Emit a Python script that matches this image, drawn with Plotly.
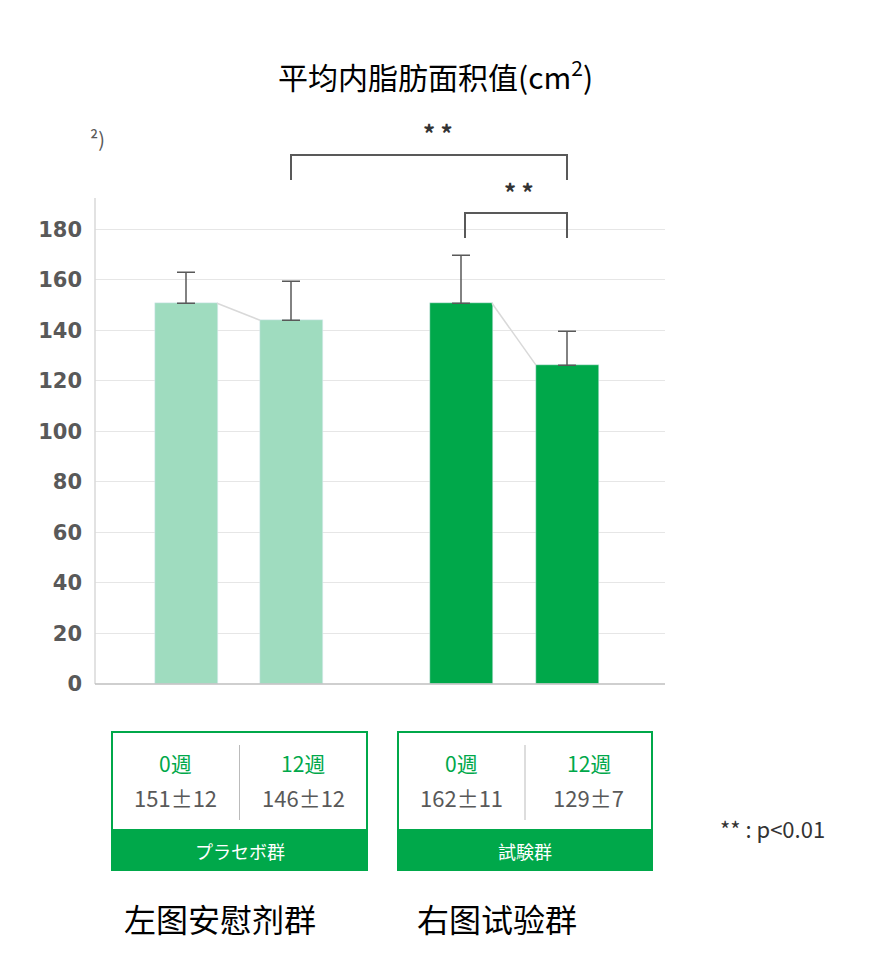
import plotly.graph_objects as go

# bar values
positions = [91, 196, 366, 472]
means = [150.7, 144.0, 150.7, 126.2]
err_plus = [12.3, 15.4, 19.0, 13.4]
bar_colors = ["#9fdcbf", "#9fdcbf", "#00a84a", "#00a84a"]
weeks = ["0週", "12週", "0週", "12週"]
stats = ["151±12", "146±12", "162±11", "129±7"]
groups = ["プラセボ群", "試験群"]
captions = ["左图安慰剂群", "右图试验群"]

GREEN = "#00a84a"
GREY = "#595959"

def py(p):  # pixel y -> paper y
    return (684 - p) / 480

fig = go.Figure()
fig.add_trace(go.Bar(
    x=positions, y=means, width=63, marker_color=bar_colors,
    error_y=dict(type="data", array=err_plus, arrayminus=[0]*4,
                 color=GREY, thickness=1.5, width=9),
    showlegend=False))
for i in (0, 2):
    fig.add_trace(go.Scatter(
        x=[positions[i] + 31, positions[i+1] - 31], y=[means[i], means[i+1]],
        mode="lines", line=dict(color="#d9d9d9", width=1.5), showlegend=False))

shapes = []
annots = []
# significance brackets
for x0, x1, top, bot, sx in [(196, 472, 155, 180, 343), (370, 472, 213, 238, 424)]:
    shapes.append(dict(type="path", xref="x", yref="paper",
                       path=f"M {x0},{py(bot)} L {x0},{py(top)} L {x1},{py(top)} L {x1},{py(bot)}",
                       line=dict(color=GREY, width=2)))
    annots.append(dict(x=sx, y=py(top - 22), xref="x", yref="paper", text="<b>* *</b>",
                       font=dict(size=24, color="#333")))

# tables under bars
for g, (bx0, bx1) in enumerate([(17, 272), (303, 557)]):
    shapes.append(dict(type="rect", xref="x", yref="paper", x0=bx0, x1=bx1,
                       y0=py(870), y1=py(732), line=dict(color=GREEN, width=2)))
    shapes.append(dict(type="rect", xref="x", yref="paper", x0=bx0, x1=bx1,
                       y0=py(870), y1=py(830), line=dict(color=GREEN, width=2),
                       fillcolor=GREEN))
    mid = (bx0 + bx1) / 2
    shapes.append(dict(type="line", xref="x", yref="paper", x0=mid, x1=mid,
                       y0=py(820), y1=py(745), line=dict(color="#bbb", width=1)))
    annots.append(dict(x=mid, y=py(851), xref="x", yref="paper", text=groups[g],
                       font=dict(size=18, color="white")))
    for k in range(2):
        i = 2 * g + k
        cx = bx0 + (bx1 - bx0) * (0.25 + 0.5 * k)
        annots.append(dict(x=cx, y=py(763), xref="x", yref="paper", text=weeks[i],
                           font=dict(size=21, color=GREEN)))
        annots.append(dict(x=cx, y=py(797), xref="x", yref="paper", text=stats[i],
                           font=dict(size=22, color=GREY)))

top_texts = [
    dict(x=435, y=75, text="平均内脂肪面积值(cm<sup>2</sup>)", font=dict(size=30, color="black")),
    dict(x=97, y=138, text="²)", font=dict(size=20, color=GREY)),
    dict(x=772, y=828, text="** : p<0.01", font=dict(size=22, color="#333")),
    dict(x=220, y=918, text=captions[0], font=dict(size=32, color="black")),
    dict(x=497, y=918, text=captions[1], font=dict(size=32, color="black")),
]
for a in top_texts:
    a.update(xref="paper", yref="paper", x=(a["x"] - 95) / 570, y=py(a["y"]))
annots += top_texts
for a in annots:
    a.update(showarrow=False, xanchor="center", yanchor="middle")

fig.update_layout(
    width=872, height=954, plot_bgcolor="white", paper_bgcolor="white",
    margin=dict(l=87, r=215, t=196, b=278),
    font=dict(family="Noto Sans CJK SC, Noto Sans, sans-serif"),
    xaxis=dict(range=[0, 570], showticklabels=False, showgrid=False,
               zeroline=False, showline=False),
    yaxis=dict(range=[0, 190], tickvals=list(range(0, 181, 20)), gridcolor="#e6e6e6",
               zeroline=False, showline=False, ticks="",
               tickfont=dict(size=21, color=GREY, family="DejaVu Sans", weight="bold"),
               ticklabelstandoff=12),
    shapes=shapes + [
        dict(type="line", xref="paper", yref="paper", x0=0, x1=0, y0=0, y1=py(198),
             line=dict(color="#d9d9d9", width=1.5)),
        dict(type="line", xref="paper", yref="paper", x0=0, x1=1, y0=0, y1=0,
             line=dict(color="#bfbfbf", width=1.5)),
    ],
    annotations=annots,
    bargap=0,
)
fig.write_html("out.html")
